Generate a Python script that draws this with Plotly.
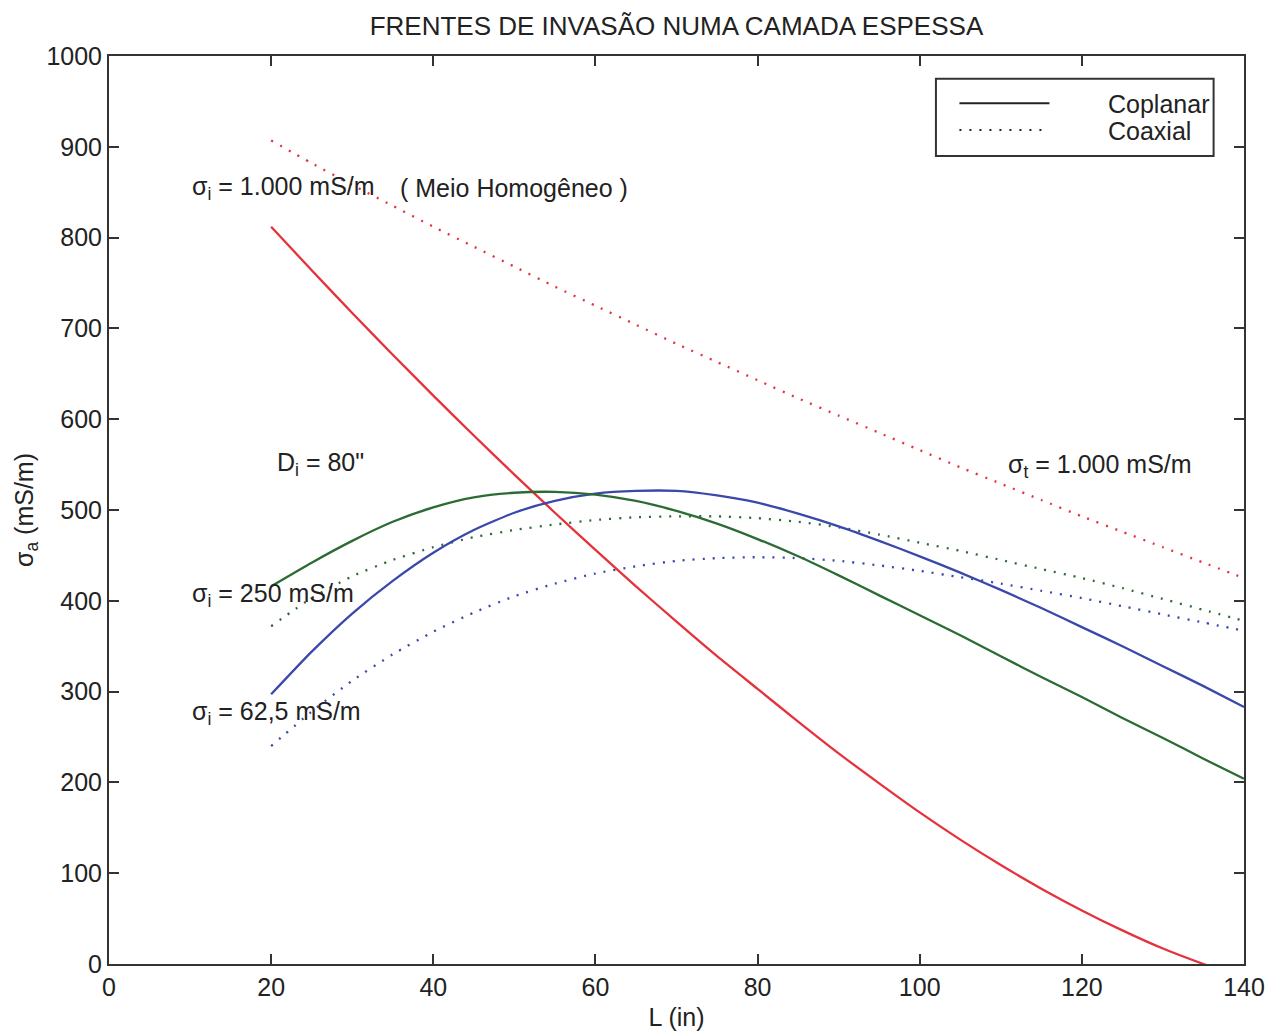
import plotly.graph_objects as go

# ---- data ----
L_in = [20, 25, 30, 35, 40, 45, 50, 55, 60, 65, 70, 75, 80, 85, 90, 95,
        100, 105, 110, 115, 120, 125, 130, 135, 140]

coplanar_1000 = [812, 764, 717, 671, 626, 582, 539, 497, 456, 416, 377, 339, 303,
                 267, 232, 199, 167, 137, 109, 83, 59, 37, 17, 0, -15]
coaxial_1000 = [907, 882, 858, 835, 812, 790, 768, 746, 725, 704, 683, 663, 643,
                623, 604, 585, 566, 547, 529, 511, 493, 476, 459, 442, 425]
coplanar_250 = [416, 442, 466, 487, 503, 514, 519, 520, 517, 510, 499, 485, 468,
                449, 428, 406, 384, 362, 339, 316, 294, 271, 249, 226, 204]
coaxial_250 = [372, 403, 427, 445, 459, 470, 478, 484, 489, 492, 493, 493, 491,
               487, 481, 473, 464, 455, 445, 435, 425, 414, 402, 390, 378]
coplanar_62 = [297, 344, 386, 422, 453, 478, 497, 510, 518, 521, 521, 516, 508,
               496, 482, 466, 449, 431, 412, 392, 371, 350, 328, 306, 283]
coaxial_62 = [240, 278, 312, 341, 366, 387, 405, 419, 430, 438, 444, 447, 448,
              447, 444, 439, 433, 426, 419, 411, 403, 394, 385, 376, 367]

x_ticks = [0, 20, 40, 60, 80, 100, 120, 140]
y_ticks = [0, 100, 200, 300, 400, 500, 600, 700, 800, 900, 1000]

title_text = "FRENTES DE INVASÃO NUMA CAMADA ESPESSA"
legend_labels = ["Coplanar", "Coaxial"]

RED = "#e5323c"
BLUE = "#3a48ac"
GREEN = "#2b6b34"
DOT = "2px,8px"
FONT = "Liberation Sans, Arial, Helvetica, sans-serif"
INK = "#222222"
FS = 25

fig = go.Figure()

series = [
    (coaxial_1000, RED, DOT, "Coaxial σi=1000"),
    (coaxial_250, GREEN, DOT, "Coaxial σi=250"),
    (coaxial_62, BLUE, DOT, "Coaxial σi=62,5"),
    (coplanar_1000, RED, "solid", "Coplanar σi=1000"),
    (coplanar_62, BLUE, "solid", "Coplanar σi=62,5"),
    (coplanar_250, GREEN, "solid", "Coplanar σi=250"),
]
for ys, col, dash, name in series:
    fig.add_trace(go.Scatter(
        x=L_in, y=ys, mode="lines", name=name, showlegend=False,
        line=dict(color=col, width=2.3, dash=dash, shape="spline", smoothing=0.6),
        hoverinfo="x+y"))

axis_common = dict(
    showline=True, linecolor="#333333", linewidth=2, mirror="ticks",
    ticks="inside", ticklen=10, tickwidth=2, tickcolor="#333333",
    showgrid=False, zeroline=False, automargin=False,
    tickfont=dict(family=FONT, size=FS, color=INK),
)

fig.update_xaxes(range=[0, 140], tickvals=x_ticks, ticktext=[str(v) for v in x_ticks],
                 title=dict(text="L (in)", font=dict(family=FONT, size=FS, color=INK), standoff=8),
                 **axis_common)
fig.update_yaxes(range=[0, 1000], tickvals=y_ticks, ticktext=[str(v) for v in y_ticks],
                 title=dict(text="σ<sub>a</sub> (mS/m)", font=dict(family=FONT, size=FS, color=INK), standoff=6),
                 **axis_common)

ann_font = dict(family=FONT, size=FS, color=INK)
annotations = [
    dict(x=10, y=855, text="σ<sub>i</sub> = 1.000 mS/m", xanchor="left"),
    dict(x=35.6, y=855, text="( Meio Homogêneo )", xanchor="left"),
    dict(x=20.5, y=551, text="D<sub>i</sub> = 80\"", xanchor="left"),
    dict(x=110.6, y=549, text="σ<sub>t</sub> = 1.000 mS/m", xanchor="left"),
    dict(x=10, y=406, text="σ<sub>i</sub> = 250 mS/m", xanchor="left"),
    dict(x=10, y=276, text="σ<sub>i</sub> = 62,5 mS/m", xanchor="left"),
]
for a in annotations:
    fig.add_annotation(xref="x", yref="y", showarrow=False, yanchor="middle",
                       font=ann_font, **a)

# legend box (drawn manually to mimic the original layout)
fig.add_shape(type="rect", xref="x", yref="y", x0=102.0, x1=136.25, y0=890, y1=975,
              line=dict(color="#333333", width=2), fillcolor="white", layer="above")
fig.add_shape(type="line", xref="x", yref="y", x0=104.9, x1=116.0, y0=948, y1=948,
              line=dict(color="#222222", width=2), layer="above")
fig.add_shape(type="line", xref="x", yref="y", x0=104.9, x1=116.0, y0=918.5, y1=918.5,
              line=dict(color="#222222", width=2, dash=DOT), layer="above")
fig.add_annotation(xref="x", yref="y", x=123.0, y=947, text=legend_labels[0], showarrow=False,
                   xanchor="left", yanchor="middle", font=ann_font)
fig.add_annotation(xref="x", yref="y", x=123.0, y=917, text=legend_labels[1], showarrow=False,
                   xanchor="left", yanchor="middle", font=ann_font)

fig.update_layout(
    width=1268, height=1031,
    margin=dict(l=109, r=24, t=56, b=67, autoexpand=False),
    paper_bgcolor="white", plot_bgcolor="white",
    title=dict(text=title_text, x=0.5335, xanchor="center", y=0.975, yanchor="middle",
               font=dict(family=FONT, size=26, color=INK)),
    showlegend=False,
)

fig.write_html("out.html")
